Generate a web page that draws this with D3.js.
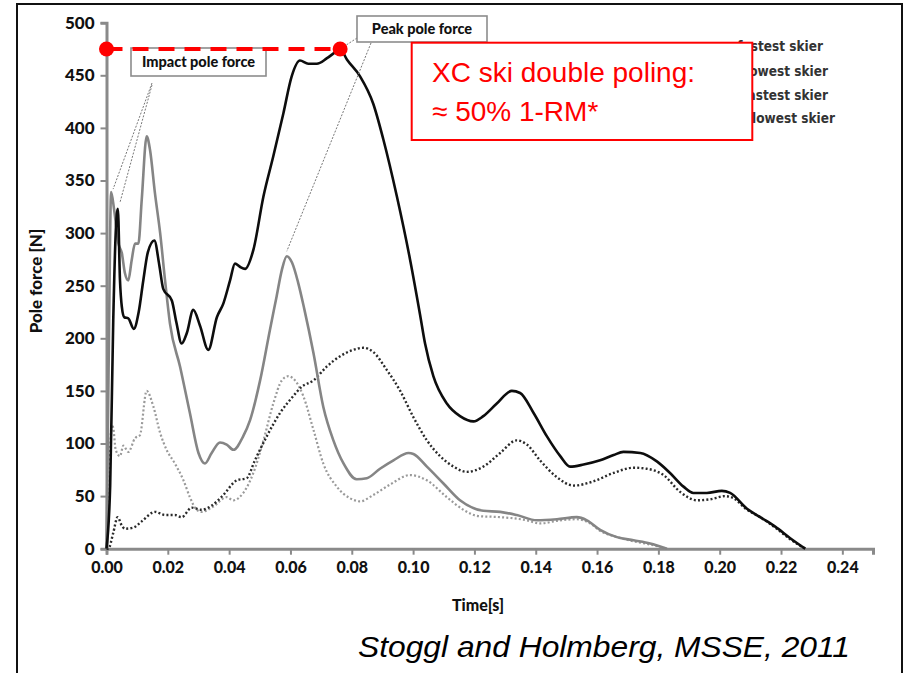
<!DOCTYPE html>
<html>
<head>
<meta charset="utf-8">
<script src="https://cdn.jsdelivr.net/npm/d3@7"></script>
<style>
  body { margin: 0; background: #fff; }
  svg { display: block; }
</style>
</head>
<body>
<div id="chart"></div>
<script>
// pole force curves, [time s, force N]
var blackSolid = [[0,0],[0.0012,60],[0.0022,217],[0.003,300],[0.0037,323],[0.0044,255],[0.005,230],[0.0058,220],[0.0071,219],[0.0089,209],[0.0105,225],[0.012,255],[0.0135,282],[0.0156,293],[0.0172,270],[0.0185,247],[0.0213,236],[0.0228,215],[0.0245,195],[0.0262,205],[0.0283,227],[0.0305,212],[0.0332,189],[0.036,220],[0.0381,233],[0.0403,255],[0.0419,271],[0.0435,268],[0.0452,266],[0.0479,284],[0.0512,335],[0.0544,373],[0.0577,414],[0.0604,449],[0.0631,464],[0.0658,461],[0.0686,461],[0.0718,466],[0.0746,472],[0.0762,475],[0.0784,465],[0.0827,449],[0.087,423],[0.0903,389],[0.0947,335],[0.099,275],[0.1023,222],[0.1039,195],[0.1066,164],[0.111,138],[0.1153,126],[0.1197,121],[0.1229,126],[0.1273,138],[0.1322,150],[0.1349,148],[0.1393,129],[0.1436,107],[0.148,88],[0.1512,78],[0.1556,80],[0.161,84],[0.1654,89],[0.1686,92],[0.1741,91],[0.1795,83],[0.1838,72],[0.1882,59],[0.1914,53],[0.1958,53],[0.2007,55],[0.2034,53],[0.2089,38],[0.2132,30],[0.2181,21],[0.223,10],[0.2279,0]];

var graySolid = [[0,0],[0.0008,200],[0.0015,339],[0.0025,322],[0.0039,290],[0.005,281],[0.006,262],[0.0071,255],[0.0082,274],[0.0093,290],[0.0104,290],[0.0115,332],[0.0131,392],[0.0142,379],[0.0158,338],[0.0175,300],[0.0191,255],[0.0207,214],[0.024,173],[0.0272,129],[0.03,91],[0.0321,81],[0.0343,91],[0.037,101],[0.0392,99],[0.0414,94],[0.0446,107],[0.0468,122],[0.0501,160],[0.0533,208],[0.0555,240],[0.0572,265],[0.0588,278],[0.0605,272],[0.0625,253],[0.0645,228],[0.0675,186],[0.0707,135],[0.074,103],[0.0773,81],[0.0816,66],[0.0849,67],[0.0892,76],[0.0936,84],[0.0985,91],[0.1001,90],[0.1045,78],[0.1099,62],[0.1153,46],[0.1229,36],[0.1284,35],[0.1338,32],[0.1404,27],[0.1469,28],[0.1534,30],[0.1567,27],[0.161,18],[0.1665,11],[0.1719,8],[0.1773,5],[0.1828,0]];

var blackDotted = [[0,0],[0.0006,0],[0.0022,15],[0.0036,30],[0.005,22],[0.006,19],[0.0087,20],[0.0115,26],[0.0158,35],[0.0191,32],[0.0223,32],[0.0245,30],[0.0278,39],[0.031,37],[0.0343,41],[0.0381,51],[0.0425,65],[0.0457,67],[0.0484,84],[0.0523,107],[0.0566,129],[0.0609,145],[0.0637,154],[0.0675,160],[0.0718,173],[0.0762,183],[0.0805,189],[0.0838,191],[0.087,187],[0.0914,170],[0.0958,150],[0.1001,125],[0.1045,103],[0.1088,88],[0.1132,78],[0.1175,73],[0.1229,78],[0.1284,91],[0.1338,103],[0.1371,99],[0.1414,84],[0.1469,68],[0.1523,60],[0.1588,64],[0.1654,72],[0.1719,77],[0.1762,76],[0.1817,70],[0.1871,54],[0.1926,46],[0.1969,47],[0.2018,50],[0.2045,48],[0.2089,37],[0.2132,30],[0.2181,20],[0.223,9],[0.2279,0]];

var grayDotted = [[0,0],[0.0008,60],[0.0017,118],[0.0022,115],[0.003,94],[0.0044,88],[0.0055,98],[0.0071,92],[0.0093,105],[0.0109,108],[0.0131,150],[0.0153,135],[0.0175,110],[0.0196,94],[0.0223,81],[0.0251,65],[0.0272,49],[0.0294,37],[0.031,35],[0.0348,40],[0.0392,49],[0.0414,46],[0.0446,53],[0.0479,72],[0.0512,103],[0.0544,138],[0.0572,160],[0.0593,164],[0.0615,160],[0.0642,145],[0.0675,113],[0.0707,81],[0.0751,59],[0.0794,48],[0.0827,45],[0.087,51],[0.0925,61],[0.099,70],[0.1045,65],[0.111,49],[0.1164,37],[0.1213,31],[0.1284,30],[0.1371,27],[0.1414,24],[0.148,27],[0.1534,28],[0.1578,24],[0.161,17],[0.1665,11],[0.1719,7],[0.1773,4],[0.1828,0]];

// legend entries; only their ends show to the right of the red box
var legendLabels = ["fastest skier", "slowest skier", "fastest skier", "slowest skier"];
var xTicks = [0, 0.02, 0.04, 0.06, 0.08, 0.10, 0.12, 0.14, 0.16, 0.18, 0.20, 0.22, 0.24];
var yTicks = [0, 50, 100, 150, 200, 250, 300, 350, 400, 450, 500];
var peak = [0.0762, 475];          // peak pole force of the fastest curve
var impactPeaks = [[0.0015, 339], [0.0037, 323]];
var slowPeak = [0.0588, 278];

var W = 904, H = 673;

var svg = d3.select("#chart").append("svg")
    .attr("width", W)
    .attr("height", H);

// outer frame of the slide
svg.append("rect")
    .attr("x", 17).attr("y", 4)
    .attr("width", 885).attr("height", 690)
    .attr("fill", "none")
    .attr("stroke", "#111")
    .attr("stroke-width", 2);

var x = d3.scaleLinear().domain([0, 0.25]).range([106.5, 873]);
var y = d3.scaleLinear().domain([0, 500]).range([548.7, 22.7]);

var tickFont = "Lato, 'Open Sans', sans-serif";

// axes
var xAxis = d3.axisBottom(x).tickValues(xTicks).tickFormat(d3.format(".2f")).tickSizeOuter(0).tickSize(6).tickPadding(7);
var yAxis = d3.axisLeft(y).tickValues(yTicks).tickFormat(d3.format("d")).tickSizeOuter(0).tickSize(6).tickPadding(6);

var gx = svg.append("g").attr("transform", "translate(0," + y(0) + ")").call(xAxis);
var gy = svg.append("g").attr("transform", "translate(" + x(0) + ",0)").call(yAxis);

[gx, gy].forEach(function(g) {
  g.select(".domain").attr("stroke", "#8a8a8a").attr("stroke-width", 3);
  g.selectAll(".tick line").attr("stroke", "#8a8a8a").attr("stroke-width", 2);
  g.selectAll(".tick text")
    .attr("fill", "#111")
    .style("font-family", tickFont)
    .style("font-weight", "900")
    .style("font-size", "16px");
});
gy.selectAll(".tick text").style("font-size", "17px");

// axis titles
svg.append("text")
    .attr("x", 478).attr("y", 611)
    .attr("text-anchor", "middle")
    .style("font-family", tickFont)
    .style("font-weight", "900")
    .style("font-size", "16px")
    .attr("fill", "#111")
    .text("Time[s]");

svg.append("text")
    .attr("transform", "translate(42,281) rotate(-90)")
    .attr("text-anchor", "middle")
    .style("font-family", tickFont)
    .style("font-weight", "900")
    .style("font-size", "17px")
    .attr("fill", "#111")
    .text("Pole force [N]");

// curves
var line = d3.line()
    .x(function(d) { return x(d[0]); })
    .y(function(d) { return y(d[1]); })
    .curve(d3.curveMonotoneX);

var curves = [
  {data: grayDotted, color: "#9a9a9a", width: 2.2, dash: "2,2.2"},
  {data: blackDotted, color: "#2a2a2a", width: 2.4, dash: "2,2.2"},
  {data: graySolid, color: "#858585", width: 2.6, dash: null},
  {data: blackSolid, color: "#0d0d0d", width: 2.6, dash: null}
];

svg.selectAll(".curve")
    .data(curves)
    .enter()
    .append("path")
    .attr("class", "curve")
    .attr("d", function(d) { return line(d.data); })
    .attr("fill", "none")
    .attr("stroke", function(d) { return d.color; })
    .attr("stroke-width", function(d) { return d.width; })
    .attr("stroke-dasharray", function(d) { return d.dash; })
    .attr("stroke-linejoin", "round");

// annotation leader lines
function leader(x1, y1, x2, y2) {
  svg.append("line")
      .attr("x1", x1).attr("y1", y1)
      .attr("x2", x2).attr("y2", y2)
      .attr("stroke", "#777")
      .attr("stroke-width", 1)
      .attr("stroke-dasharray", "2,1.5");
}
leader(152, 83, x(impactPeaks[0][0]) + 2, y(impactPeaks[0][1]) - 3);
leader(152, 85, x(impactPeaks[1][0]) + 2, y(impactPeaks[1][1]) - 6);
leader(357, 38, x(peak[0]), y(peak[1]));
leader(371, 43, x(slowPeak[0]), y(slowPeak[1]) - 5);

// annotation boxes
function noteBox(bx, by, bw, bh, label) {
  svg.append("rect")
      .attr("x", bx).attr("y", by)
      .attr("width", bw).attr("height", bh)
      .attr("fill", "#fff")
      .attr("stroke", "#8c8c8c")
      .attr("stroke-width", 1.6);
  svg.append("text")
      .attr("x", bx + bw / 2).attr("y", by + bh / 2 + 5)
      .attr("text-anchor", "middle")
      .style("font-family", tickFont)
      .style("font-weight", "900")
      .style("font-size", "14.5px")
      .attr("fill", "#111")
      .text(label);
}
noteBox(131, 48, 135, 28, "Impact pole force");
noteBox(357, 16, 130, 26, "Peak pole force");

// legend (its start is hidden behind the red box)
var legendRight = [823, 828, 828, 835];
var legendBase = [51, 75.5, 100, 123];
svg.selectAll(".legend")
    .data(legendLabels)
    .enter()
    .append("text")
    .attr("class", "legend")
    .attr("x", function(d, i) { return legendRight[i]; })
    .attr("y", function(d, i) { return legendBase[i]; })
    .attr("text-anchor", "end")
    .style("font-family", "'Liberation Sans Narrow', 'DejaVu Sans Condensed', sans-serif")
    .style("font-weight", "bold")
    .style("font-size", "13.5px")
    .attr("fill", "#333")
    .text(function(d) { return d; });

// red callout box
svg.append("rect")
    .attr("x", 411.7).attr("y", 42.7)
    .attr("width", 340.6).attr("height", 97.3)
    .attr("fill", "#fff")
    .attr("stroke", "#ff0000")
    .attr("stroke-width", 2);

svg.append("text")
    .attr("x", 432).attr("y", 82)
    .style("font-family", "'Liberation Sans', Arial, sans-serif")
    .style("font-size", "28px")
    .attr("fill", "#ff0000")
    .text("XC ski double poling:");

svg.append("text")
    .attr("x", 432).attr("y", 121)
    .style("font-family", "'Liberation Sans', Arial, sans-serif")
    .style("font-size", "28px")
    .attr("fill", "#ff0000")
    .text("≈ 50% 1-RM*");

// red dashed peak marker
svg.append("line")
    .attr("x1", x(0)).attr("y1", y(peak[1]))
    .attr("x2", x(peak[0])).attr("y2", y(peak[1]))
    .attr("stroke", "#ff0000")
    .attr("stroke-width", 4)
    .attr("stroke-dasharray", "16,10");

svg.selectAll(".peakdot")
    .data([[0, peak[1]], peak])
    .enter()
    .append("circle")
    .attr("class", "peakdot")
    .attr("cx", function(d) { return x(d[0]); })
    .attr("cy", function(d) { return y(d[1]); })
    .attr("r", 7.5)
    .attr("fill", "#ff0000");

// citation
svg.append("text")
    .attr("x", 358).attr("y", 657)
    .attr("textLength", 492)
    .attr("lengthAdjust", "spacingAndGlyphs")
    .style("font-family", "'Liberation Sans Narrow', 'Liberation Sans', Arial, sans-serif")
    .style("font-style", "italic")
    .style("font-size", "29px")
    .attr("fill", "#000")
    .text("Stoggl and Holmberg, MSSE, 2011");
</script>
</body>
</html>
